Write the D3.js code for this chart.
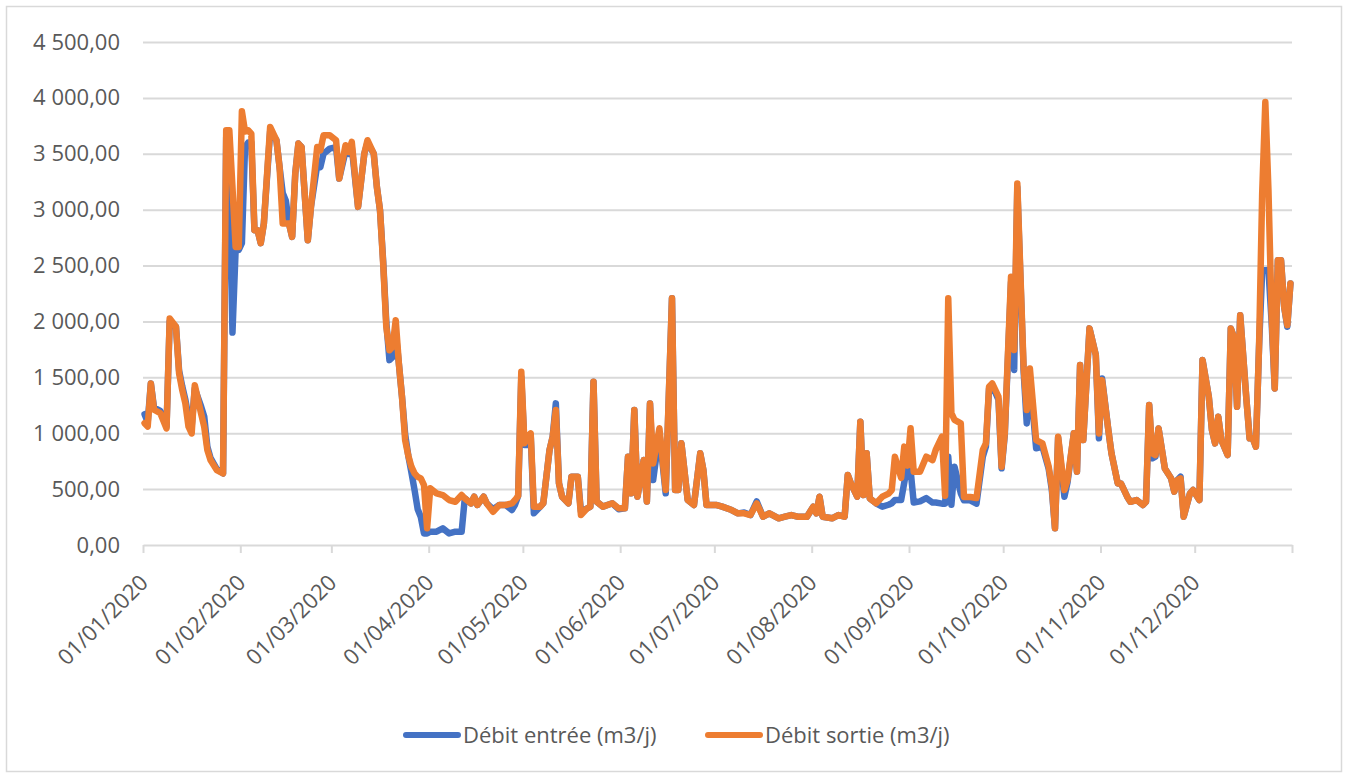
<!DOCTYPE html>
<html>
<head>
<meta charset="utf-8">
<script src="https://cdn.jsdelivr.net/npm/d3@7"></script>
<style>
  html, body { margin: 0; padding: 0; background: #fff; }
  svg { display: block; }
  text { font-family: "Open Sans", "Noto Sans", sans-serif; fill: #595959; }
</style>
</head>
<body>
<svg id="chart" width="1348" height="774"></svg>
<script>
// Day offsets from 01/01/2020 at which values were read
const days = [0,1,2,3,5,7,8,10,11,12,13,14,15,16,18,19,20,21,23,25,26,27,28,29,30,31,32,33,34,35,36,37,38,40,42,43,44,45,46,47,48,49,50,52,53,55,56,57,59,61,62,64,65,66,68,70,71,73,74,75,76,77,78,79,80,81,82,83,84,85,86,87,88,89,90,91,93,95,97,99,101,102,104,105,106,108,109,111,113,115,117,118,119,120,121,122,123,124,126,127,129,130,131,132,133,135,136,138,139,141,142,143,144,146,149,151,153,154,155,156,157,159,160,161,162,164,166,168,169,170,171,173,175,177,178,179,182,184,187,189,191,193,195,197,199,202,204,206,208,211,213,214,215,216,219,221,223,224,225,227,228,229,230,231,233,235,237,238,239,241,242,243,244,245,247,249,251,252,254,255,256,257,258,260,261,263,265,267,268,269,270,272,273,274,276,277,278,280,281,282,284,286,288,289,290,291,293,294,296,297,298,299,301,303,304,305,307,308,310,311,313,314,316,318,319,320,321,322,323,325,327,328,329,330,331,333,334,336,337,339,340,341,342,343,345,346,347,348,349,351,352,353,354,355,356,357,358,359,360,361,362,363,364,365];

// Débit entrée (m3/j)
const entree = [1170,1100,1445,1230,1200,1060,2000,1952,1560,1420,1300,1140,1060,1400,1240,1150,880,780,680,640,3650,3300,1900,2640,2640,2700,3560,3600,3600,2816,2816,2700,2876,3700,3621,3382,3150,3080,2876,2756,3323,3591,3561,2727,3025,3400,3382,3500,3546,3560,3278,3520,3500,3560,3025,3502,3600,3502,3203,2995,2540,1990,1654,1680,1900,1624,1326,990,800,650,492,320,250,104,104,119,119,149,104,119,119,417,372,432,358,432,372,320,358,358,313,360,440,1500,895,895,980,283,343,373,850,969,1267,552,432,373,611,611,300,328,343,1461,388,343,373,320,328,790,462,1208,432,760,388,1267,581,1000,462,2207,492,492,910,403,358,820,671,358,358,343,313,283,290,268,390,253,283,239,253,268,253,253,343,283,432,253,239,268,253,626,552,432,1103,447,820,417,373,343,360,373,403,403,560,720,671,380,390,420,380,380,370,370,790,360,701,462,400,400,370,790,880,1400,1430,1300,686,980,2350,1566,3200,1560,1088,1500,865,880,680,492,149,960,432,560,999,656,1610,939,1938,1700,954,1490,1028,820,551,551,432,387,402,358,387,1252,775,790,1043,685,596,477,581,611,253,462,492,402,1654,1326,1028,909,1147,939,805,1937,1860,1237,2056,1296,954,954,879,1773,2450,2459,2460,2000,1401,2548,2548,2131,1952,2339];

// Débit sortie (m3/j)
const sortie = [1090,1060,1445,1210,1180,1043,2026,1952,1535,1386,1266,1058,998,1430,1177,1058,849,760,670,640,3710,3710,3200,2667,2667,3880,3700,3710,3680,2816,2816,2700,2876,3740,3621,3382,2876,2876,2876,2756,3323,3591,3561,2727,3025,3561,3531,3665,3665,3621,3278,3576,3516,3606,3025,3502,3621,3502,3203,2995,2518,1952,1743,1773,2011,1624,1326,939,800,700,641,610,596,536,149,507,462,447,402,387,447,417,372,432,358,432,372,298,358,358,372,402,440,1550,910,969,999,343,343,373,850,969,1208,552,432,373,611,611,268,328,343,1461,388,343,373,328,328,790,462,1208,432,760,388,1267,730,1044,492,2207,492,492,910,403,358,820,671,358,358,343,313,283,283,268,373,253,283,239,253,268,253,253,343,283,432,253,239,268,253,626,552,432,1103,447,820,417,373,432,460,492,790,600,880,710,1044,656,656,790,760,850,969,440,2207,1180,1120,1088,430,430,420,850,909,1416,1446,1327,701,999,2400,1744,3235,1595,1208,1580,939,909,701,522,149,969,492,581,999,656,1610,939,1938,1700,998,1475,1028,820,551,551,432,387,402,358,387,1252,820,805,1043,685,596,477,581,596,253,462,492,402,1654,1326,1028,909,1147,939,805,1937,1860,1237,2056,1296,954,954,879,1773,3144,3963,3174,2071,1401,2548,2548,2131,1967,2339];

const yTickValues = [0,500,1000,1500,2000,2500,3000,3500,4000,4500];
const seriesNames = ["Débit entrée (m3/j)", "Débit sortie (m3/j)"];
const seriesColors = ["#4472C4", "#ED7D31"];

const svg = d3.select("#chart");
const start = new Date(2020, 0, 1);
const end = new Date(2021, 0, 1);

// chart frame
svg.append("rect")
  .attr("x", 6.5).attr("y", 6.5).attr("width", 1335).attr("height", 765)
  .attr("fill", "#fff").attr("stroke", "#d9d9d9").attr("stroke-width", 1.5);

const x = d3.scaleTime().domain([start, end]).range([143, 1292]);
const y = d3.scaleLinear().domain([0, 4500]).range([545, 42]);

const fr = d3.formatLocale({ decimal: ",", thousands: " ", grouping: [3], currency: ["", " €"] });
const fmt = fr.format(",.2f");

// horizontal gridlines + y labels
const yAxis = d3.axisLeft(y).tickValues(yTickValues).tickFormat(fmt).tickSize(0).tickPadding(0);
const gy = svg.append("g").attr("transform", "translate(143,0)").call(yAxis);
gy.select(".domain").remove();
gy.selectAll(".tick line").attr("x2", 1149).attr("stroke", "#d9d9d9").attr("stroke-width", 2);
gy.selectAll(".tick text").attr("x", -23).attr("font-size", 22).attr("fill", "#595959")
  .attr("font-family", "'Open Sans', sans-serif");
gy.selectAll(".tick").filter(d => d === 0).select("line").remove();

// x axis
const monthTicks = d3.timeMonth.range(start, end);
const xAxis = d3.axisBottom(x).tickValues(monthTicks.concat([end]))
  .tickFormat(d => d < end ? d3.timeFormat("%d/%m/%Y")(d) : "")
  .tickSize(8).tickSizeOuter(0);
const gx = svg.append("g").attr("transform", "translate(0,545)").call(xAxis);
gx.select(".domain").attr("stroke", "#d9d9d9").attr("stroke-width", 2);
gx.selectAll(".tick line").attr("stroke", "#d9d9d9").attr("stroke-width", 2);
gx.selectAll(".tick text")
  .attr("font-size", 22).attr("fill", "#595959").attr("font-family", "'Open Sans', sans-serif")
  .attr("text-anchor", "end").attr("dy", null).attr("y", 0)
  .attr("transform", "translate(6,39) rotate(-45)");

// lines
const toDate = d => new Date(2020, 0, 1 + d, 12);
const series = [entree, sortie];
const line = d3.line().x(d => x(d[0])).y(d => y(d[1]));
series.forEach((vals, i) => {
  const pts = days.map((d, k) => [toDate(d), vals[k]]);
  svg.append("path").datum(pts)
    .attr("d", line)
    .attr("fill", "none")
    .attr("stroke", seriesColors[i])
    .attr("stroke-width", 6.5)
    .attr("stroke-linejoin", "round")
    .attr("stroke-linecap", "round");
});

// legend
const legendItems = [{ x: 403, name: seriesNames[0], color: seriesColors[0] },
                     { x: 705, name: seriesNames[1], color: seriesColors[1] }];
const lg = svg.append("g");
legendItems.forEach(it => {
  lg.append("line").attr("x1", it.x + 3).attr("x2", it.x + 55).attr("y1", 735).attr("y2", 735)
    .attr("stroke", it.color).attr("stroke-width", 6).attr("stroke-linecap", "round");
  lg.append("text").attr("x", it.x + 60).attr("y", 735).attr("dy", "0.35em")
    .attr("font-size", 22).text(it.name);
});
</script>
</body>
</html>
